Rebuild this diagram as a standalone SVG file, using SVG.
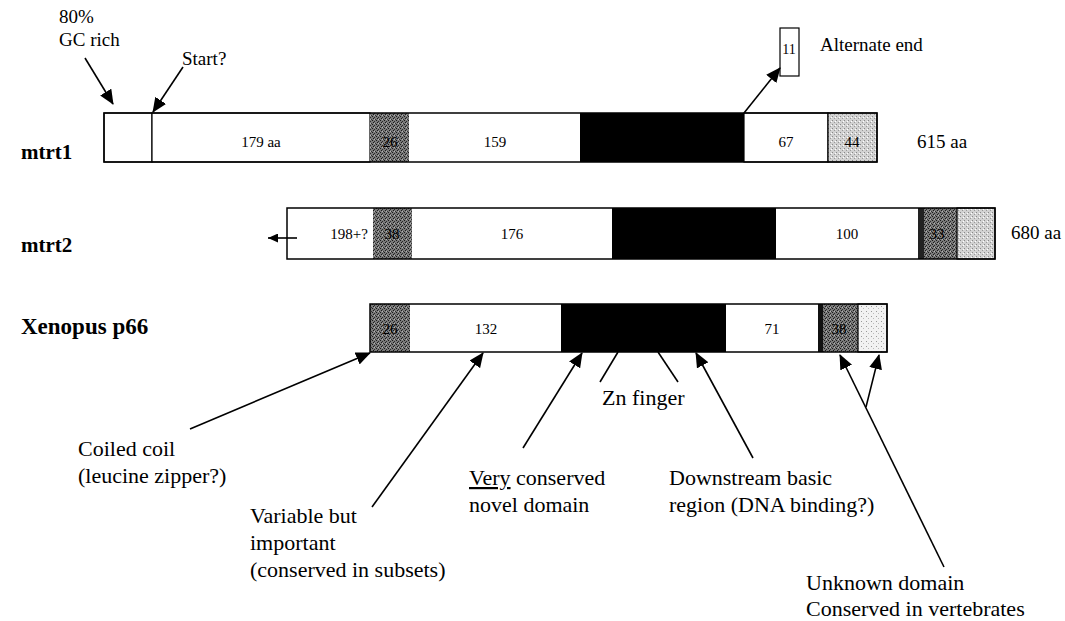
<svg xmlns="http://www.w3.org/2000/svg" width="1065" height="621" viewBox="0 0 1065 621">
<style>
text{font-family:"Liberation Serif","Times New Roman",serif;fill:#000}
.lbl{font-size:22px}
.up{font-size:19px}
.num{font-size:15px;text-anchor:middle}
.row{font-size:21px;font-weight:bold}
.box{fill:none;stroke:#000;stroke-width:1.5}
.seg{stroke:#000;stroke-width:1.2}
.con{stroke:#000;stroke-width:1.6;fill:none}
</style>
<defs>
<pattern id="dark" width="4" height="4" patternUnits="userSpaceOnUse">
<rect width="4" height="4" fill="#7a7a7a"/>
<rect x="0" y="0" width="1" height="1" fill="#1a1a1a"/>
<rect x="2" y="1" width="1" height="1" fill="#2a2a2a"/>
<rect x="1" y="2" width="1" height="1" fill="#1a1a1a"/>
<rect x="3" y="3" width="1" height="1" fill="#333"/>
<rect x="2" y="3" width="1" height="1" fill="#b5b5b5"/>
</pattern>
<pattern id="light" width="4" height="4" patternUnits="userSpaceOnUse">
<rect width="4" height="4" fill="#d2d2d2"/>
<rect x="0" y="0" width="1" height="1" fill="#888"/>
<rect x="2" y="2" width="1" height="1" fill="#999"/>
<rect x="3" y="1" width="1" height="1" fill="#fff"/>
</pattern>
<pattern id="pale" width="5" height="5" patternUnits="userSpaceOnUse">
<rect width="5" height="5" fill="#f2f2f2"/>
<rect x="1" y="1" width="1" height="1" fill="#999"/>
<rect x="3" y="3" width="1" height="1" fill="#bbb"/>
</pattern>
<marker id="ah" markerUnits="userSpaceOnUse" markerWidth="15" markerHeight="13" refX="14" refY="6.5" orient="auto">
<path d="M0,0 L15,6.5 L0,13 z" fill="#000"/>
</marker>
<marker id="ahs" markerUnits="userSpaceOnUse" markerWidth="10" markerHeight="9" refX="10" refY="4.5" orient="auto">
<path d="M0,0 L10,4.5 L0,9 z" fill="#000"/>
</marker>
</defs>

<g id="mtrt1">
<text class="row" x="21" y="159">mtrt1</text>
<rect x="104" y="113" width="48" height="49" fill="#fff" class="seg"/>
<rect x="152" y="113" width="218" height="49" fill="#fff" class="seg"/>
<rect x="370" y="113" width="39" height="49" fill="url(#dark)"/>
<rect x="409" y="113" width="171" height="49" fill="#fff"/>
<rect x="580" y="113" width="164" height="49" fill="#000"/>
<rect x="744" y="113" width="84" height="49" fill="#fff" class="seg"/>
<rect x="828" y="113" width="49" height="49" fill="url(#light)" class="seg"/>
<rect x="104" y="113" width="773" height="49" class="box"/>
<text class="num" x="261" y="147">179 aa</text>
<text class="num" x="390" y="147">26</text>
<text class="num" x="495" y="147">159</text>
<text class="num" x="786" y="147">67</text>
<text class="num" x="852" y="147">44</text>
<text class="up" x="917" y="148">615 aa</text>
</g>

<g id="alt-end">
<rect x="780" y="28" width="19" height="48" fill="#fff" class="seg"/>
<text class="num" x="789" y="54" style="font-size:14px">11</text>
<text class="up" x="820" y="51">Alternate end</text>
</g>

<g id="gc-rich">
<text class="up" x="59" y="23">80%</text>
<text class="up" x="59" y="46">GC rich</text>
</g>

<g id="start">
<text class="up" x="182" y="65">Start?</text>
</g>

<g id="mtrt2">
<text class="row" x="21" y="252">mtrt2</text>
<rect x="287" y="208" width="86" height="51" fill="#fff"/>
<rect x="373" y="208" width="39" height="51" fill="url(#dark)"/>
<rect x="412" y="208" width="200" height="51" fill="#fff"/>
<rect x="612" y="208" width="164" height="51" fill="#000"/>
<rect x="776" y="208" width="142" height="51" fill="#fff"/>
<rect x="918" y="208" width="39" height="51" fill="url(#dark)"/>
<rect x="918" y="208" width="6" height="51" fill="#222"/>
<rect x="957" y="208" width="38" height="51" fill="url(#light)" class="seg"/>
<rect x="287" y="208" width="708" height="51" class="box"/>
<text class="num" x="349" y="239">198+?</text>
<text class="num" x="392" y="239">38</text>
<text class="num" x="512" y="239">176</text>
<text class="num" x="847" y="239">100</text>
<text class="num" x="937" y="239">33</text>
<text class="up" x="1011" y="239">680 aa</text>
</g>

<g id="xenopus">
<text class="row" x="21" y="334" style="font-size:23px">Xenopus p66</text>
<rect x="370" y="304" width="40" height="48" fill="url(#dark)"/>
<rect x="410" y="304" width="151" height="48" fill="#fff"/>
<rect x="561" y="304" width="165" height="48" fill="#000"/>
<rect x="726" y="304" width="92" height="48" fill="#fff"/>
<rect x="818" y="304" width="40" height="48" fill="url(#dark)"/>
<rect x="818" y="304" width="5" height="48" fill="#111"/>
<rect x="858" y="304" width="29" height="48" fill="url(#pale)" class="seg"/>
<rect x="370" y="304" width="517" height="48" class="box"/>
<text class="num" x="390" y="334">26</text>
<text class="num" x="486" y="334">132</text>
<text class="num" x="772" y="334">71</text>
<text class="num" x="839" y="334">38</text>
</g>

<g id="labels">
<text class="lbl" x="78" y="456">Coiled coil</text>
<text class="lbl" x="78" y="483">(leucine zipper?)</text>
<text class="lbl" x="250" y="523">Variable but</text>
<text class="lbl" x="250" y="550">important</text>
<text class="lbl" x="250" y="577">(conserved in subsets)</text>
<text class="lbl" x="469" y="485"><tspan text-decoration="underline">Very</tspan> conserved</text>
<text class="lbl" x="469" y="512">novel domain</text>
<text class="lbl" x="602" y="405">Zn finger</text>
<text class="lbl" x="669" y="485">Downstream basic</text>
<text class="lbl" x="669" y="512">region (DNA binding?)</text>
<text class="lbl" x="806" y="590">Unknown domain</text>
<text class="lbl" x="806" y="616">Conserved in vertebrates</text>
</g>

<g id="connectors">
<line class="con" x1="85" y1="58" x2="113" y2="104" marker-end="url(#ah)"/>
<line class="con" x1="183" y1="67" x2="153" y2="112" marker-end="url(#ah)"/>
<line class="con" x1="744" y1="113" x2="780" y2="68" marker-end="url(#ah)"/>
<line class="con" x1="297" y1="238" x2="268" y2="238" marker-end="url(#ahs)"/>
<line class="con" x1="190" y1="429" x2="370" y2="353" marker-end="url(#ah)"/>
<line class="con" x1="372" y1="507" x2="483" y2="353" marker-end="url(#ah)"/>
<line class="con" x1="523" y1="448" x2="582" y2="353" marker-end="url(#ah)"/>
<line class="con" x1="600" y1="382" x2="618" y2="352"/>
<line class="con" x1="678" y1="382" x2="658" y2="352"/>
<line class="con" x1="753" y1="458" x2="696" y2="353" marker-end="url(#ah)"/>
<line class="con" x1="944" y1="567" x2="840" y2="355" marker-end="url(#ah)"/>
<line class="con" x1="866" y1="407" x2="879" y2="355" marker-end="url(#ah)"/>
</g>
</svg>
